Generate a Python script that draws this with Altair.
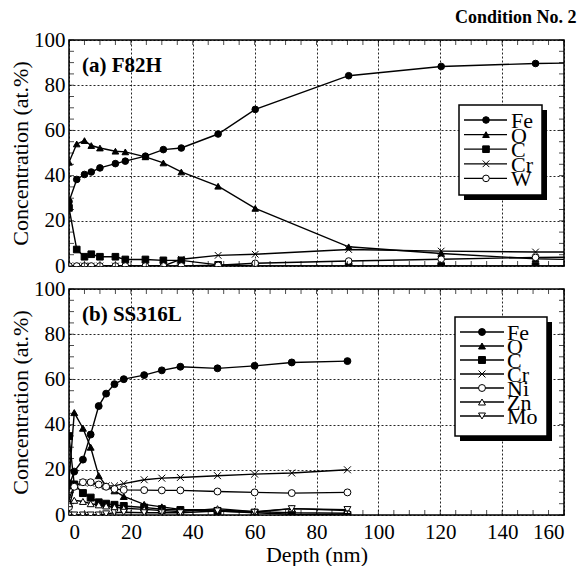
import altair as alt
import pandas as pd

SERIF = "Liberation Serif"

# ---------------- data ----------------
depth_a = [0, 2.5, 5, 7.2, 10, 15, 18.2, 24.7, 30.5, 36.3, 48.2, 60.2, 90.4, 120.3, 150.8, 180]
fe_a = [28.5, 38.3, 40.5, 41.6, 43.4, 45.3, 46.4, 48.6, 51.5, 52.2, 58.4, 69.3, 84.2, 88.3, 89.6, 90.2]
o_a = [45.9, 54.0, 55.5, 53.3, 52.2, 50.8, 50.5, 48.3, 45.6, 41.6, 35.3, 25.5, 8.5, 5.5, 3.2, 2.4]
c_a = [25.7, 7.3, 4.1, 5.2, 4.1, 4.1, 2.9, 2.9, 2.5, 2.5, 0.5, 0.0, 0.0, 0.0, 0.0, 0.0]
cr_a = [0, 0, 0, 0, 0, 0, 0, 0, 0, 3.0, 4.7, 5.2, 7.3, 6.6, 6.2, 6.1]
w_a = [0, 0, 0, 0, 0, 0, 0, 0, 0, 0, 0.3, 1.2, 2.2, 3.0, 3.8, 4.0]

depth_b = [0, 1.7, 4.5, 7, 9.6, 12, 14.7, 17.7, 24.3, 30, 36, 48, 60, 72, 90]
fe_b = [12.9, 19.2, 24.5, 35.6, 48.2, 53.7, 57.9, 60.1, 61.9, 64.0, 65.6, 64.9, 66.0, 67.5, 68.1]
o_b = [15.0, 45.3, 38.4, 30.0, 17.4, 12.9, 10.7, 8.2, 4.7, 3.6, 2.5, 2.2, 1.5, 1.0, 0.8]
c_b = [34.9, 13.5, 9.7, 7.7, 5.6, 5.0, 4.5, 4.0, 3.3, 2.6, 2.2, 1.8, 1.0, 0.3, 0.0]
cr_b = [7.2, 12.9, 14.4, 14.1, 13.2, 12.9, 12.9, 13.9, 15.6, 16.3, 16.6, 17.4, 18.1, 18.6, 20.0]
ni_b = [3.5, 12.5, 14.5, 14.5, 13.5, 12.5, 11.5, 11.1, 11.0, 10.9, 10.9, 10.4, 10.0, 9.7, 10.0]
zn_b = [5.0, 6.5, 6.0, 5.0, 4.5, 4.0, 3.5, 3.0, 2.5, 2.0, 1.5, 2.8, 1.5, 2.8, 2.0]
mo_b = [0, 0, 0, 0, 0, 0.5, 1.0, 1.2, 1.0, 1.0, 1.0, 1.8, 1.2, 2.8, 2.4]

names_a = ["Fe", "O", "C", "Cr", "W"]
names_b = ["Fe", "O", "C", "Cr", "Ni", "Zn", "Mo"]

x_grid = [0, 20, 40, 60, 80, 100, 120, 140, 160]
y_grid = [0, 20, 40, 60, 80, 100]
x_minor = list(range(0, 161, 5))
y_minor = list(range(0, 101, 5))

# ---------------- styles ----------------
XPATH = "M-1,-1L1,1M1,-1L-1,1"
elements = ["Fe", "O", "C", "Cr", "W", "Ni", "Zn", "Mo"]
shape_range = ["circle", "triangle-up", "square", XPATH, "circle", "circle", "triangle-up", "triangle-down"]
fill_range = ["black", "black", "black", "black", "white", "white", "white", "white"]

W, H = 495, 226


def to_long(depth, series):
    rows = []
    for name, vals in series:
        for d, v in zip(depth, vals):
            rows.append({"depth": d, "conc": v, "element": name})
    return pd.DataFrame(rows)


df_a = to_long(depth_a, [("Fe", fe_a), ("O", o_a), ("C", c_a), ("Cr", cr_a), ("W", w_a)])
df_b = to_long(depth_b, [("Fe", fe_b), ("O", o_b), ("C", c_b), ("Cr", cr_b),
                         ("Ni", ni_b), ("Zn", zn_b), ("Mo", mo_b)])

shape_enc = alt.Shape("element:N", scale=alt.Scale(domain=elements, range=shape_range), legend=None)
fill_enc = alt.Fill("element:N", scale=alt.Scale(domain=elements, range=fill_range), legend=None)


def panel(df, names, label, xaxis, msize, leg):
    x_s = alt.Scale(domain=[0, 160], nice=False)
    y_s = alt.Scale(domain=[0, 100], nice=False)
    x_enc = alt.X("depth:Q", scale=x_s, axis=xaxis)
    y_enc = alt.Y("conc:Q", scale=y_s,
                  axis=alt.Axis(values=y_grid, title="Concentration (at.%)", grid=True,
                                ticks=False, domain=False, labelPadding=4, titlePadding=1))
    base = alt.Chart(df)
    lines = base.mark_line(color="black", strokeWidth=1.4, clip=True).encode(
        x=x_enc, y=y_enc, detail="element:N")
    pts = base.mark_point(size=msize, opacity=1, stroke="black", strokeWidth=1, clip=True).encode(
        x=x_enc, y=y_enc, shape=shape_enc, fill=fill_enc)

    tx = pd.DataFrame({"depth": x_minor})
    ty = pd.DataFrame({"conc": y_minor})
    tk = dict(color="black", thickness=1, size=5)
    t_bot = alt.Chart(tx).mark_tick(orient="vertical", yOffset=-2.5, **tk).encode(x=x_enc, y=alt.value(H))
    t_top = alt.Chart(tx).mark_tick(orient="vertical", yOffset=2.5, **tk).encode(x=x_enc, y=alt.value(0))
    t_left = alt.Chart(ty).mark_tick(orient="horizontal", xOffset=2.5, **tk).encode(y=y_enc, x=alt.value(0))
    t_right = alt.Chart(ty).mark_tick(orient="horizontal", xOffset=-2.5, **tk).encode(y=y_enc, x=alt.value(W))

    one = alt.Data(values=[{"a": 1}])
    bx0, bx1, by0, by1, lx0, lx1, lxm, tx0, y0, dy = leg
    shadow = alt.Chart(one).mark_rect(color="black").encode(
        x=alt.value(bx0 + 5), x2=alt.value(bx1 + 5), y=alt.value(by0 + 5), y2=alt.value(by1 + 5))
    box = alt.Chart(one).mark_rect(fill="white", stroke="black", strokeWidth=1.5).encode(
        x=alt.value(bx0), x2=alt.value(bx1), y=alt.value(by0), y2=alt.value(by1))

    leg_df = pd.DataFrame({"element": names, "idx": list(range(len(names)))})
    lb = alt.Chart(leg_df).transform_calculate(py=f"{y0} + datum.idx * {dy}")
    ly = alt.Y("py:Q", scale=None, axis=None)
    lrule = lb.mark_rule(color="black", strokeWidth=1.3).encode(
        x=alt.value(lx0), x2=alt.value(lx1), y=ly)
    lpt = lb.mark_point(size=msize, opacity=1, stroke="black", strokeWidth=1).encode(
        x=alt.value(lxm), y=ly, shape=shape_enc, fill=fill_enc)
    ltxt = lb.mark_text(align="left", baseline="middle", font=SERIF, fontSize=22, dy=1, color="black").encode(
        x=alt.value(tx0), y=ly, text="element:N")

    lab = alt.Chart(one).mark_text(align="left", baseline="alphabetic", font=SERIF, fontSize=21,
                                   fontWeight="bold", color="black").encode(
        x=alt.value(13), y=alt.value(32), text=alt.value(label))

    return alt.layer(lines, pts, t_bot, t_top, t_left, t_right, shadow, box, lrule, lpt, ltxt, lab).properties(
        width=W, height=H)


top_axis = alt.Axis(values=x_grid, grid=True, labels=False, ticks=False, domain=False, title=None)
bot_axis = alt.Axis(values=x_grid, grid=True, labels=True, ticks=False, domain=False,
                    title="Depth (nm)", labelPadding=6, titlePadding=2, format="d")

top = panel(df_a, names_a, "(a) F82H", top_axis, 44,
            (390, 473, 65, 155, 395, 438, 417, 442, 80, 14.6)).properties(
    title=alt.TitleParams("Condition No. 2", anchor="end", font=SERIF, fontSize=18,
                          fontWeight="bold", dx=12, offset=2, color="black"))
bottom = panel(df_b, names_b, "(b) SS316L", bot_axis, 48,
               (386, 478, 28, 147, 391, 435, 413, 438, 43, 14))

chart = alt.vconcat(top, bottom, spacing=0).properties(
    padding={"left": 0, "top": 0, "right": 0, "bottom": 0}
).configure_view(stroke="black", strokeWidth=1.5).configure_axis(
    labelFont=SERIF, labelFontSize=21, labelColor="black",
    titleFont=SERIF, titleFontSize=22, titleFontWeight="normal", titleColor="black",
    gridColor="black", gridDash=[2, 2], gridWidth=1, gridOpacity=0.85
).configure_concat(spacing=0)

chart.save("out.html", embed_options={"renderer": "svg", "actions": False})
